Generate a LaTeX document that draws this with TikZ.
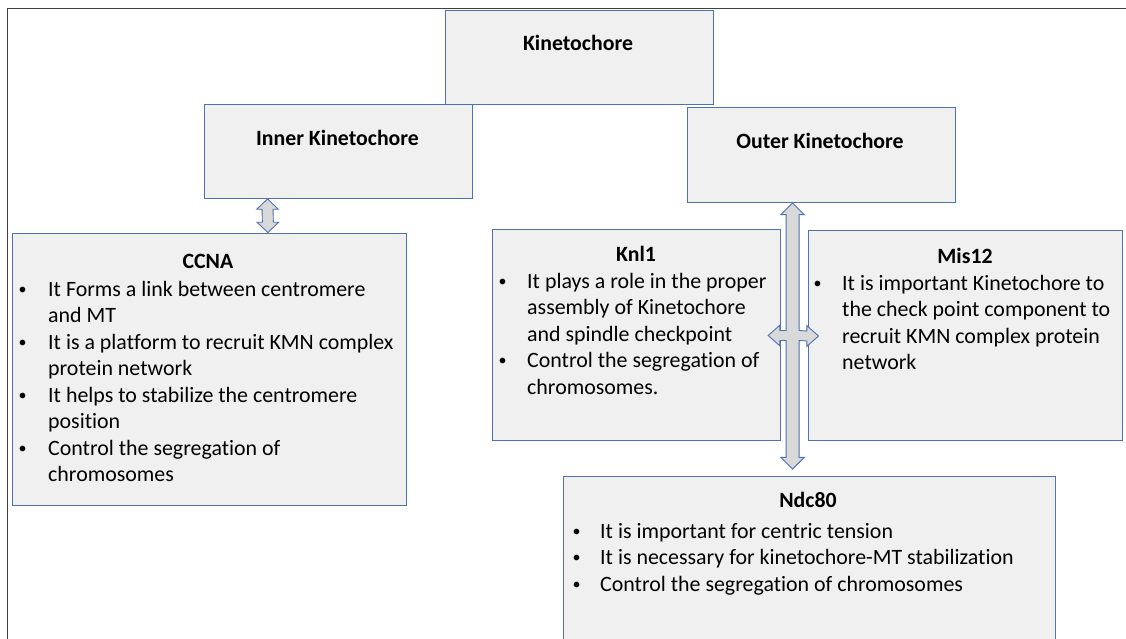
\documentclass[tikz,border=0pt]{standalone}
\usepackage{fontspec}
\setmainfont{Carlito}[Ligatures={NoCommon}]
\usetikzlibrary{calc}
\definecolor{boxline}{RGB}{79,113,175}
\definecolor{boxfill}{RGB}{240,240,240}
\definecolor{arrowfill}{RGB}{217,217,217}
\definecolor{framec}{RGB}{64,64,64}
\newcommand{\bul}{\hspace*{0.5pt}\raisebox{1.8pt}{\fontsize{16}{16}\selectfont\textbullet}}
\tikzset{
  box/.style={draw=boxline, fill=boxfill, line width=0.9pt, inner sep=0pt, rectangle},
  ttl/.style={font=\fontsize{21.8}{24}\selectfont\bfseries, inner sep=0pt, anchor=base},
  blt/.style={font=\fontsize{21.9}{26.5}\selectfont, inner sep=0pt, anchor=base west},
  blockarrow/.style={draw=boxline, fill=arrowfill, line width=0.9pt, line join=miter}
}
\begin{document}
\begin{tikzpicture}[x=1pt,y=-1pt]
\clip (0,0) rectangle (1126,638);
\fill[white] (0,0) rectangle (1126,638);
\draw[framec, line width=1.5pt] (7.5,640) -- (7.5,8.5) -- (1128,8.5);

% boxes
\node[box, minimum width=268, minimum height=94] (kin) at (579,57) {};
\node[box, minimum width=268, minimum height=94] (inner) at (338,151) {};
\node[box, minimum width=268, minimum height=95] (outer) at (821,154.5) {};
\node[box, minimum width=394, minimum height=272] (ccna) at (209.7,369) {};
\node[box, minimum width=288, minimum height=211] (knl) at (636.5,334.5) {};
\node[box, minimum width=314, minimum height=210] (mis) at (965,335) {};
\node[box, minimum width=492, minimum height=204] (ndc) at (809,578) {};

% titles
\node[ttl] (kint) at (578,50) {Kinetochore};
\node[ttl] (innert) at (337.5,145) {Inner Kinetochore};
\node[ttl] (outert) at (820,148) {Outer Kinetochore};
\node[ttl] (ccnat) at (208,268) {CCNA};
\node[ttl] (knlt) at (636,261) {Knl1};
\node[ttl] (mist) at (965,263) {Mis12};
\node[ttl] (ndct) at (808,507) {Ndc80};

% bullet lists
\node[blt] (ccnab) at (18,296) {\begin{tabular}[t]{@{}p{30pt}@{}l@{}}
\bul & It Forms a link between centromere\\
 & and MT\\
\bul & It is a platform to recruit KMN complex\\
 & protein network\\
\bul & It helps to stabilize the centromere\\
 & position\\
\bul & Control the segregation of\\
 & chromosomes
\end{tabular}};
\node[blt] (knlb) at (498,288) {\begin{tabular}[t]{@{}p{29pt}@{}l@{}}
\bul & It plays a role in the proper\\
 & assembly of Kinetochore\\
 & and spindle checkpoint\\
\bul & Control the segregation of\\
 & chromosomes.
\end{tabular}};
\node[blt] (misb) at (813,290) {\begin{tabular}[t]{@{}p{29pt}@{}l@{}}
\bul & It is important Kinetochore to\\
 & the check point component to\\
 & recruit KMN complex protein\\
 & network
\end{tabular}};
\node[blt] (ndcb) at (572,538) {\begin{tabular}[t]{@{}p{28pt}@{}l@{}}
\bul & It is important for centric tension\\
\bul & It is necessary for kinetochore-MT stabilization\\
\bul & Control the segregation of chromosomes
\end{tabular}};

% small double block arrow inner <-> ccna
\coordinate (aT) at ($(inner.south west)+(64,0.5)$);
\coordinate (aB) at ($(ccna.north west |- ccna.north)+(255.6,0)$);
\draw[blockarrow] (aT) -- ($(aT)+(10.8,10.3)$) -- ($(aT)+(5.5,10.3)$)
  -- ($(aB)+(5.5,-10.3)$) -- ($(aB)+(10.8,-10.3)$) -- (aB)
  -- ($(aB)+(-10.8,-10.3)$) -- ($(aB)+(-5.5,-10.3)$)
  -- ($(aT)+(-5.5,10.3)$) -- ($(aT)+(-10.8,10.3)$) -- cycle;

% cross block arrow outer <-> ndc, knl <-> mis
\coordinate (T) at ($(outer.south west)+(106,0.5)$);
\coordinate (B) at ($(ndc.north west)+(230,-6.5)$);
\coordinate (L) at ($(knl.east)+(-12.8,1)$);
\coordinate (R) at ($(mis.west)+(11,1)$);
\coordinate (C) at (T |- L);
\draw[blockarrow] (T) -- ($(T)+(11.7,11.7)$) -- ($(T)+(6.5,11.7)$)
  -- ($(C)+(6.5,-5)$) -- ($(R)+(-11.7,-5)$) -- ($(R)+(-11.7,-10.3)$) -- (R)
  -- ($(R)+(-11.7,10.3)$) -- ($(R)+(-11.7,5)$) -- ($(C)+(6.5,5)$)
  -- ($(B)+(6.5,-11.7)$) -- ($(B)+(11.7,-11.7)$) -- (B)
  -- ($(B)+(-11.7,-11.7)$) -- ($(B)+(-6.5,-11.7)$) -- ($(C)+(-6.5,5)$)
  -- ($(L)+(11.7,5)$) -- ($(L)+(11.7,10.3)$) -- (L)
  -- ($(L)+(11.7,-10.3)$) -- ($(L)+(11.7,-5)$) -- ($(C)+(-6.5,-5)$)
  -- ($(T)+(-6.5,11.7)$) -- ($(T)+(-11.7,11.7)$) -- cycle;
\end{tikzpicture}
\end{document}
